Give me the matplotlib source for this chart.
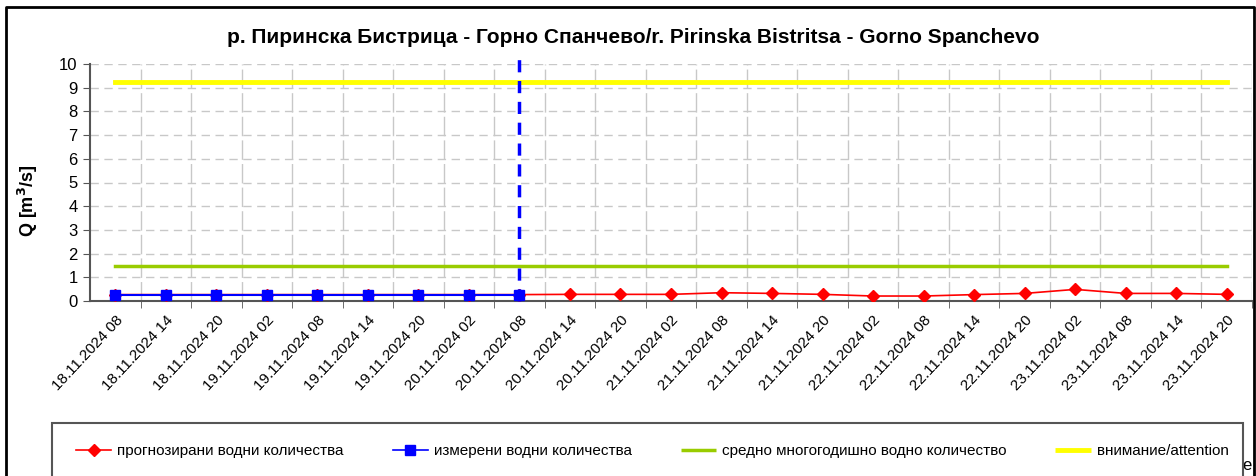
import matplotlib
matplotlib.use("Agg")
import matplotlib.pyplot as plt
from matplotlib.lines import Line2D
from matplotlib.patches import Rectangle
import numpy as np

plt.rcParams['font.family'] = ['Liberation Sans', 'DejaVu Sans']

# Data
labels = ['18.11.2024 08', '18.11.2024 14', '18.11.2024 20',
          '19.11.2024 02', '19.11.2024 08', '19.11.2024 14', '19.11.2024 20',
          '20.11.2024 02', '20.11.2024 08', '20.11.2024 14', '20.11.2024 20',
          '21.11.2024 02', '21.11.2024 08', '21.11.2024 14', '21.11.2024 20',
          '22.11.2024 02', '22.11.2024 08', '22.11.2024 14', '22.11.2024 20',
          '23.11.2024 02', '23.11.2024 08', '23.11.2024 14', '23.11.2024 20']
forecast = [0.27, 0.27, 0.27, 0.27, 0.27, 0.27, 0.27, 0.27, 0.27, 0.28, 0.28, 0.28,
            0.35, 0.32, 0.28, 0.21, 0.21, 0.27, 0.32, 0.49, 0.32, 0.32, 0.28]
measured = [0.25, 0.25, 0.25, 0.25, 0.25, 0.25, 0.25, 0.25, 0.25]
mean_q = [1.47] * len(labels)
attention = [9.24] * len(labels)
now_index = 8

W, H = 1256, 476
fig = plt.figure(figsize=(W / 100, H / 100), dpi=100)
ax = fig.add_axes([90 / W, (H - 301) / H, (1252 - 90) / W, (301 - 64) / H])

x = np.arange(len(labels))
ax.plot(x, attention, color='#ffff00', lw=3.5, zorder=3)
ax.plot(x, mean_q, color='#99cc00', lw=2.5, zorder=3)
ax.plot(x, forecast, color='#ff0000', lw=1.2, marker='D', ms=6.5, zorder=4)
ax.plot(x[:len(measured)], measured, color='#0000ff', lw=1.5, marker='s', ms=6.5, zorder=5)
ax.plot([now_index, now_index], [0, 10.5], color='#0000ff', lw=2.5,
        dashes=(3.5, 2.5), clip_on=False, zorder=6)

ax.set_xlim(-0.5, len(labels) - 0.5)
ax.set_ylim(0, 10)
ax.set_yticks(range(0, 11))
ax.set_xticks(x)
ax.set_xticklabels(labels, rotation=47, ha='right', rotation_mode='anchor')
ax.set_xticks(np.arange(0.5, len(labels), 1), minor=True)
ax.tick_params(axis='x', which='major', length=0, pad=9, labelsize=11)
ax.tick_params(axis='x', which='minor', length=5, color='#555555')
ax.tick_params(axis='y', length=5, color='#555555', labelsize=12, pad=4)
ax.grid(axis='y', color='#c8c8c8', ls=(0, (6, 4)), lw=1)
ax.grid(axis='x', which='minor', color='#c8c8c8', ls=(0, (14, 3)), lw=1)
for s in ['top', 'right']:
    ax.spines[s].set_visible(False)
for s in ['left', 'bottom']:
    ax.spines[s].set_color('#555555')
    ax.spines[s].set_linewidth(1.5)

fig.text(28 / W, 1 - 201 / H, 'Q [m$^\\mathbf{3}$/s]', rotation=90,
         ha='center', va='center', fontsize=13, fontweight='bold')

fig.text(633 / W, 1 - 38 / H,
         'р. Пиринска Бистрица - Горно Спанчево/r. Pirinska Bistritsa - Gorno Spanchevo',
         ha='center', va='center', fontsize=15, fontweight='bold')

# outer frame
fig.add_artist(Line2D([6 / W, 6 / W, 1254 / W, 1254 / W], [0, 1 - 7 / H, 1 - 7 / H, 0],
                      transform=fig.transFigure, color='black', lw=2))

# stray text partly hidden by the legend
fig.text(1247 / W, 1 - 466 / H, 'е', ha='center', va='center', fontsize=12)

# legend box
fig.add_artist(Rectangle((52 / W, -0.05), (1243 - 52) / W, 0.05 + (H - 423) / H,
                         transform=fig.transFigure, facecolor='white',
                         edgecolor='#555555', lw=1.5, zorder=10))
handles = [
    Line2D([], [], color='#ff0000', lw=1.2, marker='D', ms=6.5),
    Line2D([], [], color='#0000ff', lw=1.2, marker='s', ms=6.5),
    Line2D([], [], color='#99cc00', lw=2.5, solid_capstyle='butt'),
    Line2D([], [], color='#ffff00', lw=3.5, solid_capstyle='butt'),
]
names = ['прогнозирани водни количества', 'измерени водни количества',
         'средно многогодишно водно количество', 'внимание/attention']
leg = fig.legend(handles, names, ncol=4, loc='center left',
                 bbox_to_anchor=(76 / W, 1 - 451 / H), frameon=False,
                 fontsize=11, handlelength=2.3, handletextpad=0.4,
                 columnspacing=3.2, borderaxespad=0, borderpad=0)
leg.set_zorder(11)

fig.savefig('out.png', dpi=100)
